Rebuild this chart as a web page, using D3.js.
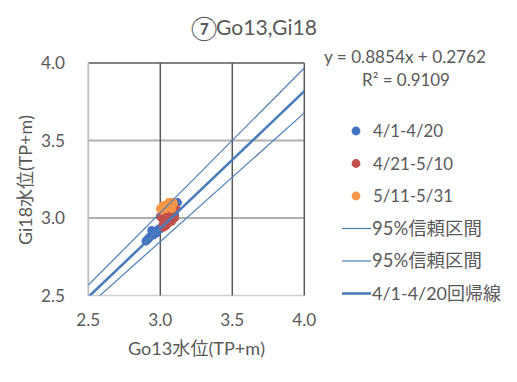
<!DOCTYPE html>
<html><head><meta charset="utf-8">
<script src="https://cdn.jsdelivr.net/npm/d3@7"></script>
<style>body{margin:0;background:#fff}svg{display:block}text{font-family:"Lato","Noto Sans CJK JP",sans-serif;fill:#595959}</style>
</head><body>
<script>
const titleMark = "⑦";
const titleRest = "Go13,Gi18";
const xTitle = "Go13水位(TP+m)";
const yTitle = "Gi18水位(TP+m)";
const xTicks = [2.5, 3.0, 3.5, 4.0];
const yTicks = [2.5, 3.0, 3.5, 4.0];
const seriesNames = ["4/1-4/20", "4/21-5/10", "5/11-5/31"];
const seriesColors = ["#4472C4", "#C0504D", "#F79646"];
const blueX = [2.90,2.91,2.92,2.93,2.94,2.95,2.95,2.96,2.97,2.98,2.99,3.00,3.01,3.02,3.03,3.05,3.06,3.08,3.10,3.12];
const blueY = [2.85,2.86,2.87,2.88,2.92,2.89,2.90,2.91,2.90,2.92,2.93,2.93,2.94,2.95,2.96,2.97,2.99,3.00,3.02,3.10];
const redX = [3.00,3.01,3.02,3.02,3.03,3.04,3.04,3.05,3.06,3.06,3.07,3.08,3.08,3.09,3.10,3.10,3.11,3.03,3.05,3.07];
const redY = [3.01,3.00,2.96,2.94,2.98,3.02,2.95,2.99,3.03,2.97,3.00,3.04,2.98,3.02,3.05,3.00,3.06,3.03,3.04,2.99];
const orangeX = [3.00,3.01,3.02,3.03,3.04,3.05,3.05,3.06,3.06,3.07,3.07,3.08,3.08,3.09,3.09,3.04,3.03,3.06,3.08,3.02];
const orangeY = [3.06,3.05,3.07,3.06,3.08,3.07,3.09,3.08,3.10,3.09,3.07,3.10,3.08,3.09,3.10,3.06,3.08,3.10,3.06,3.08];
const lineX = [2.5, 4.0];
const upperY = [2.567, 3.968];
const lowerY = [2.433, 3.678];
const slope = 0.8854, intercept = 0.2762;
const equationText = "y = 0.8854x + 0.2762";
const r2Text = "R² = 0.9109";
const lineNames = ["95%信頼区間", "95%信頼区間", "4/1-4/20回帰線"];

const W = 517, H = 382;
const svg = d3.select("body").append("svg").attr("width", W).attr("height", H);
const x = d3.scaleLinear().domain([2.5, 4.0]).range([88.3, 304.3]);
const y = d3.scaleLinear().domain([2.5, 4.0]).range([295.5, 63]);

function fit(sel, target) {
  sel.each(function() {
    const fs = parseFloat(this.getAttribute("font-size"));
    const w = this.getComputedTextLength();
    if (w > 0) this.setAttribute("font-size", (fs * target / w).toFixed(2));
  });
  return sel;
}

svg.append("defs").append("clipPath").attr("id","clip").append("rect")
  .attr("x", x(2.5)).attr("y", y(4.0)).attr("width", x(4.0)-x(2.5)).attr("height", y(2.5)-y(4.0));

const g = svg.append("g");
g.selectAll(".hg").data(yTicks.filter(d => d > 2.5 && d < 4.0)).join("line")
  .attr("x1", x(2.5)).attr("x2", x(4.0)).attr("y1", d => y(d)).attr("y2", d => y(d))
  .attr("stroke", "#b0b0b0").attr("stroke-width", 1.8);
g.append("line").attr("x1", x(2.5)).attr("x2", x(4.0)).attr("y1", y(2.5)).attr("y2", y(2.5))
  .attr("stroke", "#d0d0d0").attr("stroke-width", 1.5);
g.selectAll(".vg").data(xTicks.filter(d => d > 2.5)).join("line")
  .attr("x1", d => x(d)).attr("x2", d => x(d)).attr("y1", y(2.5)).attr("y2", y(4.0))
  .attr("stroke", "#595959").attr("stroke-width", 1.5);
g.append("line").attr("x1", x(2.5)).attr("x2", x(4.0)).attr("y1", y(4.0)).attr("y2", y(4.0))
  .attr("stroke", "#595959").attr("stroke-width", 1.5);
g.append("line").attr("x1", x(2.5)).attr("x2", x(2.5)).attr("y1", y(2.5)).attr("y2", y(4.0))
  .attr("stroke", "#bfbfbf").attr("stroke-width", 1.8);

// tick labels
let tickFs = 16;
(function(){
  const t = svg.append("text").attr("font-size", tickFs).text("2.5");
  const w = t.node().getComputedTextLength(); t.remove();
  tickFs = tickFs * 24 / w;
})();
svg.selectAll(".xt").data(xTicks).join("text")
  .attr("x", d => x(d)).attr("y", 326).attr("text-anchor", "middle")
  .attr("font-size", tickFs).text(d => d.toFixed(1));
svg.selectAll(".yt").data(yTicks).join("text")
  .attr("x", 65).attr("y", d => y(d) + 6).attr("text-anchor", "end")
  .attr("font-size", tickFs).text(d => d.toFixed(1));

// scatter
const series = [d3.zip(blueX, blueY), d3.zip(redX, redY), d3.zip(orangeX, orangeY)];
const plot = svg.append("g").attr("clip-path", "url(#clip)");
series.forEach((s, i) => {
  plot.append("g").selectAll("circle").data(s).join("circle")
    .attr("cx", d => x(d[0])).attr("cy", d => y(d[1])).attr("r", 4.4)
    .attr("fill", seriesColors[i]);
});

// lines
const lineColor = "#4a7ebb";
const line = d3.line().x(d => x(d[0])).y(d => y(d[1]));
plot.append("path").datum(d3.zip(lineX, upperY)).attr("d", line)
  .attr("fill", "none").attr("stroke", lineColor).attr("stroke-width", 1.2);
plot.append("path").datum(d3.zip(lineX, lowerY)).attr("d", line)
  .attr("fill", "none").attr("stroke", lineColor).attr("stroke-width", 1.2);
plot.append("path").datum(lineX.map(v => [v, slope * v + intercept])).attr("d", line)
  .attr("fill", "none").attr("stroke", lineColor).attr("stroke-width", 2.6);

// title
svg.append("text").attr("x", 204).attr("y", 36.5).attr("font-size", 24).attr("text-anchor", "middle")
  .attr("font-family", "Noto Sans CJK JP").text(titleMark);
fit(svg.append("text").attr("x", 216).attr("y", 35).attr("font-size", 20).text(titleRest), 101);

// axis titles
fit(svg.append("text").attr("x", 196.5).attr("y", 355).attr("text-anchor", "middle")
  .attr("font-size", 16).text(xTitle), 137);
fit(svg.append("text").attr("transform", "translate(32,180) rotate(-90)").attr("text-anchor", "middle")
  .attr("font-size", 16).text(yTitle), 130);

// equation
fit(svg.append("text").attr("x", 405).attr("y", 63).attr("text-anchor", "middle")
  .attr("font-size", 16).text(equationText), 162);
fit(svg.append("text").attr("x", 406).attr("y", 86).attr("text-anchor", "middle")
  .attr("font-size", 16).text(r2Text), 88);

// legend
const lg = svg.append("g");
const rowY0 = 131, rowDy = 32.5;
const legWidths = [70, 80, 80, 110, 110, 129];
seriesNames.forEach((n, i) => {
  const yy = rowY0 + i * rowDy;
  lg.append("circle").attr("cx", 356).attr("cy", yy).attr("r", 4.4).attr("fill", seriesColors[i]);
  fit(lg.append("text").attr("x", 373).attr("y", yy + 6).attr("font-size", 17).text(n), legWidths[i]);
});
lineNames.forEach((n, i) => {
  const yy = rowY0 + (i + 3) * rowDy;
  lg.append("line").attr("x1", 342).attr("x2", 371).attr("y1", yy).attr("y2", yy)
    .attr("stroke", lineColor).attr("stroke-width", i === 2 ? 2.6 : 1.2);
  fit(lg.append("text").attr("x", 372).attr("y", yy + 6).attr("font-size", 17).text(n), legWidths[i + 3]);
});
</script>
</body></html>
